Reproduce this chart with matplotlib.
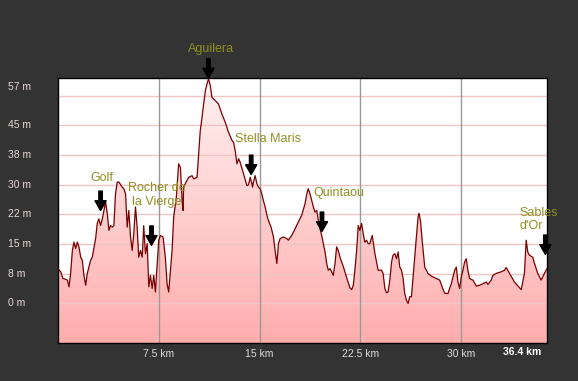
import numpy as np
import matplotlib.pyplot as plt
from matplotlib.colors import LinearSegmentedColormap
from matplotlib.transforms import blended_transform_factory

## perfil: distancia (km) y altitud (m)
dist_km = [0.0, 0.20, 0.37, 0.57, 0.70, 0.82, 0.94, 1.07, 1.19, 1.31, 1.44, 1.56, 1.69, 1.81, 1.93,
           2.06, 2.18, 2.30, 2.43, 2.55, 2.67, 2.80, 2.92, 3.04, 3.17, 3.30, 3.42, 3.54, 3.67, 3.79,
           3.91, 4.04, 4.16, 4.28, 4.41, 4.53, 4.78, 4.90, 5.03, 5.15, 5.27, 5.40, 5.52, 5.64, 5.77,
           5.89, 6.01, 6.14, 6.27, 6.38, 6.51, 6.64, 6.76, 6.88, 7.01, 7.13, 7.25, 7.38, 7.50, 7.62,
           7.82, 7.99, 8.12, 8.24, 8.37, 8.49, 8.61, 8.81, 8.98, 9.11, 9.24, 9.31, 9.35, 9.48, 9.73,
           9.98, 10.10, 10.35, 10.47, 10.59, 10.72, 10.84, 10.97, 11.09, 11.21, 11.34, 11.46, 11.71, 11.95, 12.20,
           12.45, 12.69, 12.95, 13.07, 13.19, 13.32, 13.44, 13.56, 13.81, 14.06, 14.18, 14.31, 14.43, 14.48, 14.55,
           14.68, 14.80, 14.92, 15.05, 15.17, 15.29, 15.42, 15.55, 15.66, 15.86, 16.04, 16.16, 16.29, 16.41, 16.53,
           16.78, 17.03, 17.15, 17.40, 17.65, 17.89, 18.14, 18.39, 18.52, 18.63, 18.76, 18.89, 19.01, 19.13, 19.26,
           19.38, 19.50, 19.63, 19.75, 19.88, 20.00, 20.12, 20.25, 20.37, 20.49, 20.62, 20.74, 20.86, 20.99, 21.23,
           21.49, 21.73, 21.86, 21.98, 22.10, 22.23, 22.35, 22.47, 22.60, 22.72, 22.84, 22.97, 23.09, 23.21, 23.39,
           23.59, 23.83, 24.08, 24.20, 24.33, 24.45, 24.57, 24.70, 24.83, 24.94, 25.07, 25.20, 25.32, 25.44, 25.57,
           25.69, 25.81, 25.94, 26.06, 26.18, 26.31, 26.43, 26.55, 26.68, 26.80, 26.87, 26.98, 27.13, 27.30, 27.54,
           27.80, 28.17, 28.41, 28.66, 28.78, 29.03, 29.15, 29.28, 29.40, 29.53, 29.65, 29.77, 29.90, 30.02, 30.14,
           30.27, 30.39, 30.51, 30.64, 30.88, 31.14, 31.38, 31.63, 31.88, 32.00, 32.25, 32.37, 32.62, 32.99, 33.24,
           33.36, 33.61, 33.98, 34.48, 34.72, 34.85, 34.97, 35.09, 35.34, 35.47, 35.71, 35.96, 36.21, 36.40]
elev_m = [8.8, 8.0, 6.3, 6.1, 5.9, 4.2, 7.6, 13.4, 15.5, 13.9, 15.5, 14.3, 11.7, 10.9, 7.1,
          4.6, 7.6, 9.2, 10.9, 11.7, 13.9, 16.4, 20.2, 21.4, 19.7, 21.4, 23.5, 25.6, 22.7, 18.5,
          19.7, 19.3, 19.7, 27.7, 30.7, 30.7, 29.4, 29.0, 27.7, 19.3, 23.5, 16.8, 13.4, 17.6, 24.4,
          19.3, 11.7, 13.4, 11.7, 19.7, 12.6, 15.1, 4.2, 7.1, 3.8, 7.1, 2.9, 9.6, 16.0, 17.2,
          16.8, 11.7, 5.0, 2.9, 8.4, 13.4, 21.8, 26.9, 35.3, 34.4, 26.0, 23.5, 29.4, 30.3, 31.9,
          32.3, 31.5, 31.9, 37.8, 43.7, 47.0, 50.4, 53.8, 55.5, 56.8, 55.0, 52.1, 51.3, 50.4, 47.9,
          45.8, 43.3, 41.2, 40.7, 38.6, 35.3, 36.6, 35.7, 32.8, 29.8, 30.0, 31.9, 30.3, 29.4, 30.7,
          32.3, 30.3, 29.4, 29.0, 27.7, 26.0, 24.4, 22.3, 21.0, 19.3, 16.8, 13.4, 10.1, 15.1, 16.4,
          16.8, 16.4, 16.0, 17.2, 18.9, 20.6, 22.3, 25.2, 27.7, 29.0, 27.7, 26.0, 24.4, 23.1, 23.5,
          21.0, 18.9, 17.2, 15.1, 13.0, 10.1, 8.4, 8.8, 8.0, 7.1, 10.1, 14.3, 13.4, 11.7, 9.4,
          6.5, 4.0, 3.5, 4.6, 8.4, 13.4, 19.7, 18.5, 20.2, 17.6, 15.5, 16.0, 15.1, 15.1, 17.2,
          12.6, 8.4, 8.4, 7.6, 3.8, 2.7, 2.9, 5.9, 10.5, 12.2, 12.6, 11.3, 13.0, 9.2, 8.4,
          6.3, 2.5, 0.8, 0.0, 1.7, 1.7, 6.7, 11.7, 16.8, 21.8, 22.8, 21.0, 15.1, 9.2, 7.6,
          6.9, 6.3, 5.9, 3.6, 2.6, 2.5, 3.8, 5.0, 6.7, 8.4, 9.2, 5.4, 3.8, 6.7, 8.4,
          10.5, 11.3, 8.4, 6.3, 5.9, 4.4, 4.6, 5.0, 5.4, 4.8, 5.9, 7.1, 7.6, 8.0, 8.4,
          9.1, 7.6, 5.4, 3.5, 7.6, 16.0, 13.0, 12.2, 11.7, 10.1, 7.6, 5.9, 7.6, 8.8]

grid_m = [0, 7.5, 15, 22.5, 30, 37.5, 45, 52.5]
ytick_vals = [0, 7.5, 15, 22.5, 30, 37.5, 45]
ytick_labels = ["0 m", "8 m", "15 m", "22 m", "30 m", "38 m", "45 m"]
xtick_vals = [7.5, 15, 22.5, 30]
xtick_labels = ["7.5 km", "15 km", "22.5 km", "30 km"]
total_km = 36.4
max_m = 57
min_m = -10

## lugares: punta de la flecha y posicion del texto
places = ["Aguilera", "Golf", "Rocher de\nla Vierge", "Stella Maris", "Quintaou", "Sables\nd'Or"]
arrow_km = [11.2, 3.17, 6.96, 14.38, 19.65, 36.28]
arrow_m = [57.0, 23.5, 14.7, 32.6, 18.2, 12.4]
label_km = [11.41, 3.24, 7.34, 15.64, 20.9, 34.35]
label_m = [64.4, 31.6, 27.4, 41.7, 27.8, 21.3]
label_ha = ["center", "center", "center", "center", "center", "left"]

fig = plt.figure(figsize=(5.78, 3.81), dpi=100, facecolor="#333333")
ax = fig.add_axes([58 / 578, 38 / 381, 489 / 578, 265 / 381])
ax.set_facecolor("white")
ax.set_xlim(0, total_km)
ax.set_ylim(min_m, max_m)

## relleno con degradado
poly = ax.fill_between(dist_km, elev_m, min_m, color="none", lw=0)
grad = np.linspace(0, 1, 256).reshape(-1, 1)
cmap = LinearSegmentedColormap.from_list("rosa", ["#ffadad", "#fff2f2"])
im = ax.imshow(grad, extent=[0, total_km, min_m, max_m], aspect="auto", cmap=cmap,
               origin="lower", zorder=1)
im.set_clip_path(poly.get_paths()[0], transform=ax.transData)

for g in grid_m:
    ax.axhline(g, color="#f2c4c4", lw=1, zorder=2)
for v in xtick_vals:
    ax.axvline(v, color="#999999", lw=1, zorder=2)

ax.plot(dist_km, elev_m, color="#7a0000", lw=0.9, zorder=3)

for s in ax.spines.values():
    s.set_color("black")
    s.set_linewidth(1)

ax.set_yticks([])
ax.set_xticks(xtick_vals, xtick_labels)
ax.tick_params(axis="x", length=0, pad=4, colors="#dddddd", labelsize=7.5)
for lab in ax.get_xticklabels():
    lab.set_fontfamily("Liberation Sans")

## etiquetas del eje y
tr = blended_transform_factory(fig.transFigure, ax.transData)
for v, lab in zip(ytick_vals, ytick_labels):
    ax.text(8 / 578, v, lab, transform=tr, ha="left", va="center", color="#ead8d8",
            fontsize=7.5, family="Liberation Sans")
ax.text(8 / 578, 54.8, f"{max_m} m", transform=tr, ha="left", va="center", color="#ead8d8",
        fontsize=7.5, family="Liberation Sans")
fig.text(541 / 578, 1 - 352 / 381, f"{total_km} km", ha="right", va="center", color="white",
         fontsize=7.5, weight="bold", family="Liberation Sans")

## flechas y nombres
for name, akm, am, lkm, lm, ha in zip(places, arrow_km, arrow_m, label_km, label_m, label_ha):
    ax.annotate("", xy=(akm, am), xytext=(akm, am + 4.9),
                arrowprops=dict(facecolor="black", edgecolor="black", width=2.5,
                                headwidth=8, headlength=7),
                annotation_clip=False, zorder=5)
    ax.text(lkm, lm, name, ha=ha, va="center", color="#8f8f22", fontsize=9,
            family="Liberation Sans", linespacing=1.15, clip_on=False, zorder=5)

fig.savefig("out.png", dpi=100, facecolor=fig.get_facecolor())
